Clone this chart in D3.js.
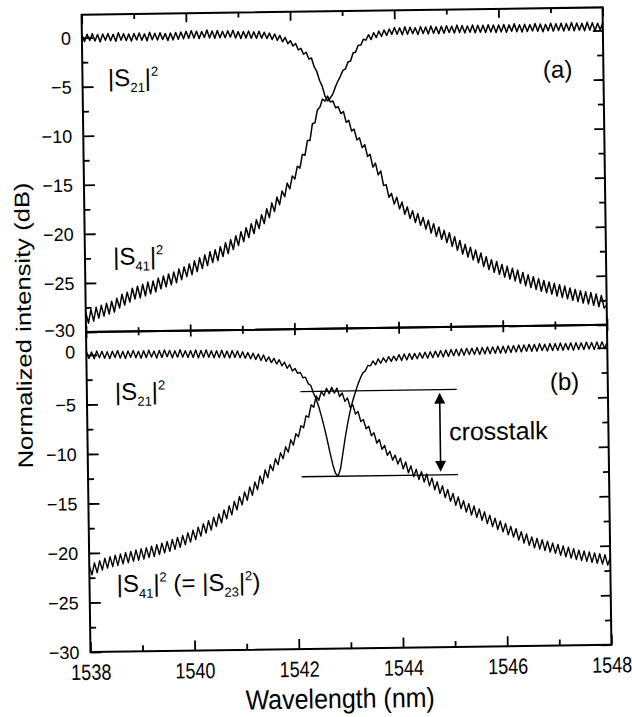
<!DOCTYPE html>
<html>
<head>
<meta charset="utf-8">
<script src="https://cdn.jsdelivr.net/npm/d3@7"></script>
<style>
  body { margin: 0; background: #fff; }
  svg text { font-family: "Liberation Sans", Arial, Helvetica, sans-serif; fill: #000; }
</style>
</head>
<body>
<div id="chart"></div>
<script>
// wavelength sampling of the traces (nm)
var wlStart = 1538, wlStep = 0.05;

var xMajor = [1538, 1540, 1542, 1544, 1546, 1548];
var xMinor = [1539, 1541, 1543, 1545, 1547];
var yMajor = [0, -5, -10, -15, -20, -25, -30];
var yMinor = [-2.5, -7.5, -12.5, -17.5, -22.5, -27.5];

// panel (a), dB
var s21a = [
  0.3,-0.4,0.35,-0.3,0.4,-0.35,0.3,-0.45,0.35,-0.3,
  0.4,-0.35,0.3,-0.4,0.45,-0.3,0.35,-0.35,0.3,-0.4,
  0.35,-0.3,0.4,-0.35,0.3,-0.4,0.45,-0.3,0.35,-0.35,
  0.4,-0.3,0.3,-0.4,0.35,-0.35,0.4,-0.3,0.45,-0.25,
  0.5,-0.2,0.55,-0.2,0.5,-0.25,0.45,-0.15,0.6,-0.2,
  0.5,-0.25,0.55,-0.2,0.45,-0.2,0.5,-0.15,0.55,-0.25,
  0.4,-0.3,0.4,-0.25,0.45,-0.3,0.35,-0.3,0.4,-0.3,
  0.3,-0.35,0.2,-0.45,0.1,-0.55,-0.05,-0.7,-0.25,-0.9,
  -0.6,-1.15,-0.9,-1.55,-1.4,-2.0,-1.8,-2.5,-2.4,-3.3,
  -3.8,-4.7,-5.3,-6.3,-6.8,-6.5,-6.1,-5.4,-4.8,-4.3,
  -3.7,-3.55,-2.85,-2.75,-1.95,-1.85,-1.15,-1.15,-0.55,-0.65,
  -0.1,-0.6,0.1,-0.4,0.25,-0.3,0.35,-0.2,0.45,-0.1,
  0.6,-0.1,0.55,-0.15,0.65,-0.1,0.6,-0.05,0.55,-0.15,
  0.65,-0.05,0.6,-0.1,0.7,-0.05,0.6,-0.1,0.65,-0.05,
  0.7,0.0,0.65,-0.05,0.75,0.0,0.7,-0.05,0.65,0.0,
  0.75,-0.05,0.7,0.0,0.7,-0.05,0.75,0.0,0.7,-0.05,
  0.7,0.0,0.75,-0.05,0.7,0.05,0.8,0.0,0.7,-0.05,
  0.75,0.0,0.7,0.05,0.8,0.0,0.75,-0.05,0.7,0.05,
  0.8,0.0,0.75,0.05,0.8,0.0,0.75,0.05,0.85,0.0,
  0.8,0.05,0.75,0.0,0.85,0.05,0.8,0.0,0.75,0.05,
  0.8
];
var s41a = [
  -28.0,-29.1,-27.7,-28.9,-27.5,-28.6,-27.3,-28.4,-27.1,-28.2,
  -26.9,-28.0,-26.6,-27.6,-26.2,-27.3,-26.0,-27.0,-25.6,-26.7,
  -25.4,-26.6,-25.2,-26.4,-25.0,-26.2,-24.9,-26.0,-24.6,-25.7,
  -24.4,-25.5,-24.2,-25.3,-24.0,-25.1,-23.7,-24.8,-23.5,-24.5,
  -23.2,-24.3,-22.9,-24.0,-22.6,-23.7,-22.3,-23.4,-22.0,-23.1,
  -21.8,-22.9,-21.5,-22.5,-21.1,-22.2,-20.8,-21.8,-20.4,-21.4,
  -20.0,-21.0,-19.6,-20.6,-19.2,-20.2,-18.8,-19.7,-18.3,-19.2,
  -17.7,-18.6,-17.1,-18.0,-16.5,-17.3,-15.9,-16.5,-15.1,-15.7,
  -14.4,-14.7,-13.4,-13.6,-12.2,-12.3,-10.8,-10.8,-9.1,-9.0,
  -7.7,-7.4,-6.6,-6.8,-6.3,-6.9,-6.8,-7.5,-7.4,-8.1,
  -7.9,-9.0,-8.8,-9.9,-9.7,-10.8,-10.6,-11.6,-11.3,-12.5,
  -12.3,-13.6,-13.2,-14.4,-14.0,-15.5,-15.4,-16.7,-16.3,-17.4,
  -16.7,-17.9,-17.2,-18.45,-17.7,-18.9,-18.1,-19.3,-18.4,-19.6,
  -18.8,-20.0,-19.1,-20.4,-19.45,-20.75,-19.8,-21.05,-20.15,-21.4,
  -20.4,-21.8,-20.8,-22.2,-21.2,-22.6,-21.6,-22.9,-21.9,-23.2,
  -22.2,-23.5,-22.5,-23.9,-22.9,-24.2,-23.2,-24.5,-23.4,-24.7,
  -23.7,-25.0,-23.9,-25.2,-24.1,-25.4,-24.3,-25.65,-24.55,-25.9,
  -24.8,-26.1,-25.0,-26.3,-25.2,-26.5,-25.4,-26.65,-25.55,-26.8,
  -25.7,-27.0,-25.85,-27.15,-26.0,-27.3,-26.2,-27.45,-26.35,-27.6,
  -26.5,-27.75,-26.6,-27.85,-26.7,-28.0,-26.85,-28.15,-27.0,-28.3,
  -28.0
];

// panel (b), dB
var s21b = [
  0.35,-0.35,0.3,-0.4,0.4,-0.3,0.35,-0.35,0.3,-0.4,
  0.35,-0.3,0.4,-0.35,0.3,-0.4,0.35,-0.3,0.4,-0.35,
  0.3,-0.4,0.35,-0.35,0.4,-0.3,0.3,-0.4,0.35,-0.35,
  0.4,-0.3,0.35,-0.4,0.3,-0.35,0.4,-0.35,0.3,-0.4,
  0.3,-0.4,0.35,-0.45,0.3,-0.4,0.35,-0.4,0.25,-0.45,
  0.25,-0.45,0.3,-0.45,0.2,-0.5,0.25,-0.45,0.2,-0.5,
  0.1,-0.55,0.02,-0.62,-0.05,-0.7,-0.15,-0.8,-0.25,-0.9,
  -0.45,-1.03,-0.6,-1.18,-0.75,-1.37,-1.0,-1.63,-1.25,-1.9,
  -1.65,-2.15,-2.05,-2.6,-2.55,-3.2,-3.4,-4.2,-4.8,-5.6,
  -6.6,-7.7,-8.9,-10.2,-11.4,-12.3,-12.6,-11.8,-10.2,-8.6,
  -7.2,-6.0,-5.0,-4.2,-3.4,-2.75,-2.2,-2.0,-1.45,-1.5,
  -1.0,-1.4,-0.8,-1.25,-0.7,-1.15,-0.6,-1.07,-0.55,-1.0,
  -0.4,-1.0,-0.35,-0.95,-0.3,-0.9,-0.3,-0.85,-0.25,-0.8,
  -0.2,-0.8,-0.15,-0.75,-0.1,-0.7,-0.05,-0.7,0.0,-0.65,
  0.05,-0.6,0.05,-0.6,0.1,-0.55,0.15,-0.5,0.15,-0.5,
  0.2,-0.5,0.2,-0.45,0.25,-0.45,0.25,-0.4,0.3,-0.4,
  0.3,-0.4,0.35,-0.35,0.35,-0.3,0.4,-0.3,0.4,-0.25,
  0.45,-0.25,0.45,-0.25,0.5,-0.2,0.45,-0.25,0.5,-0.2,
  0.5,-0.2,0.55,-0.2,0.5,-0.15,0.55,-0.2,0.55,-0.15,
  0.55,-0.15,0.6,-0.1,0.55,-0.15,0.6,-0.1,0.6,-0.1,
  0.6
];
var s41b = [
  -21.3,-22.2,-21.0,-22.0,-20.8,-21.75,-20.55,-21.55,-20.4,-21.4,
  -20.25,-21.3,-20.15,-21.15,-20.0,-21.05,-19.9,-20.9,-19.75,-20.8,
  -19.65,-20.7,-19.55,-20.55,-19.4,-20.45,-19.25,-20.25,-19.1,-20.1,
  -18.95,-19.95,-18.75,-19.75,-18.55,-19.55,-18.35,-19.3,-18.1,-19.05,
  -17.85,-18.8,-17.55,-18.45,-17.2,-18.15,-16.9,-17.85,-16.55,-17.5,
  -16.25,-17.15,-15.85,-16.75,-15.45,-16.35,-15.0,-15.85,-14.5,-15.35,
  -14.05,-14.9,-13.55,-14.4,-13.05,-13.85,-12.45,-13.25,-11.85,-12.65,
  -11.35,-11.95,-10.75,-11.35,-10.15,-10.75,-9.55,-10.1,-8.85,-9.4,
  -8.25,-8.55,-7.45,-7.65,-6.45,-6.6,-5.35,-5.6,-4.45,-4.9,
  -4.0,-4.45,-3.7,-4.25,-3.6,-4.2,-3.7,-4.55,-4.2,-5.05,
  -4.7,-5.65,-5.4,-6.35,-6.1,-7.1,-6.9,-7.85,-7.6,-8.55,
  -8.25,-9.3,-8.95,-9.95,-9.55,-10.55,-10.15,-11.05,-10.55,-11.45,
  -10.85,-11.95,-11.25,-12.35,-11.65,-12.75,-12.0,-13.05,-12.25,-13.3,
  -12.5,-13.7,-12.9,-14.1,-13.3,-14.5,-13.7,-14.9,-14.1,-15.3,
  -14.5,-15.7,-14.85,-16.05,-15.25,-16.4,-15.55,-16.7,-15.8,-16.95,
  -16.1,-17.25,-16.4,-17.6,-16.75,-17.9,-17.05,-18.2,-17.35,-18.45,
  -17.6,-18.75,-17.9,-19.0,-18.15,-19.3,-18.45,-19.6,-18.7,-19.85,
  -19.0,-20.1,-19.15,-20.25,-19.3,-20.4,-19.45,-20.55,-19.65,-20.7,
  -19.8,-20.9,-19.95,-21.05,-20.1,-21.2,-20.25,-21.35,-20.4,-21.45,
  -20.5,-21.55,-20.6,-21.65,-20.7,-21.75,-20.8,-21.85,-20.9,-21.95,
  -21.2
];

// crosstalk marker in panel (b)
var xtalkLevels = [-4.0, -12.6];
var xtalkSpan = [1542.1, 1545.1];
var xtalkArrow = [1544.77, -4.3, -12.3];

var width = 632, height = 717;
var left = 86, right = 607;
var topA = 11, mid = 328.4, botB = 648.4;

var svg = d3.select('#chart').append('svg')
    .attr('width', width)
    .attr('height', height);

// the scanned figure is tilted slightly
var g = svg.append('g').attr('transform', 'rotate(-0.8,346,329)');

var x = d3.scaleLinear().domain([1538, 1548]).range([left, right]);
var yA = d3.scaleLinear().domain([-30, 2.35]).range([mid, topA]);
var yB = d3.scaleLinear().domain([-30, 2.32]).range([botB, mid]);

function tickAxis(axisFn, scale, values, size, pos, isX) {
    var ax = g.append('g')
        .attr('transform', isX ? 'translate(0,' + pos + ')' : 'translate(' + pos + ',0)')
        .call(axisFn(scale).tickValues(values).tickSize(size).tickSizeOuter(0).tickFormat(''));
    ax.select('.domain').remove();
    ax.selectAll('line').attr('stroke', '#000').attr('stroke-width', 1.8);
    return ax;
}

[[yA], [yB]].forEach(function(p) {
    var y = p[0];
    // left, inward ticks
    tickAxis(d3.axisLeft, y, yMajor, -11, left, false);
    tickAxis(d3.axisLeft, y, yMinor, -6, left, false);
    // right, inward ticks
    tickAxis(d3.axisRight, y, yMajor, -10, right, false);
    tickAxis(d3.axisRight, y, yMinor, -6, right, false);
});

// x ticks on the three horizontal edges
tickAxis(d3.axisBottom, x, xMajor, 9, topA, true);
tickAxis(d3.axisBottom, x, xMinor, 5, topA, true);
tickAxis(d3.axisTop, x, xMajor, 6, mid, true);
tickAxis(d3.axisTop, x, xMinor, 4, mid, true);
tickAxis(d3.axisBottom, x, xMajor, 6, mid, true);
tickAxis(d3.axisBottom, x, xMinor, 4, mid, true);
tickAxis(d3.axisBottom, x, xMajor, -10, botB, true);
tickAxis(d3.axisBottom, x, xMinor, -6, botB, true);

// tick labels
function yLabels(y, isLower) {
    var ax = g.append('g')
        .attr('transform', 'translate(' + left + ',0)')
        .call(d3.axisLeft(y).tickValues(yMajor).tickSize(0).tickPadding(11).tickFormat(d3.format('d')));
    ax.select('.domain').remove();
    ax.selectAll('text')
        .style('font-size', '18px')
        .attr('dy', function(d) {
            if (isLower && d === 0) return '0.15em';
            if (!isLower && d === -30) return '0.22em';
            return '0.34em';
        });
}
yLabels(yA, false);
yLabels(yB, true);

var xAx = g.append('g')
    .attr('transform', 'translate(0,' + botB + ')')
    .call(d3.axisBottom(x).tickValues(xMajor).tickSize(0).tickPadding(10).tickFormat(d3.format('d')));
xAx.select('.domain').remove();
xAx.selectAll('text').style('font-size', '18px').attr('transform', 'scale(1,1.22)');

// frames
[[topA, mid], [mid, botB]].forEach(function(p) {
    g.append('rect')
        .attr('x', left).attr('y', p[0])
        .attr('width', right - left).attr('height', p[1] - p[0])
        .attr('fill', 'none').attr('stroke', '#000').attr('stroke-width', 2);
});

// traces
function trace(values, y, w) {
    var line = d3.line()
        .x(function(d, i) { return x(wlStart + i * wlStep); })
        .y(function(d) { return y(d); });
    g.append('path')
        .datum(values)
        .attr('d', line)
        .attr('fill', 'none')
        .attr('stroke', '#000')
        .attr('stroke-width', w)
        .attr('stroke-linejoin', 'round');
}
trace(s21a, yA, 1.5);
trace(s41a, yA, 1.5);
trace(s21b, yB, 1.4);
trace(s41b, yB, 1.4);

// crosstalk lines and arrow
xtalkLevels.forEach(function(v) {
    g.append('line')
        .attr('x1', x(xtalkSpan[0])).attr('x2', x(xtalkSpan[1]))
        .attr('y1', yB(v)).attr('y2', yB(v))
        .attr('stroke', '#000').attr('stroke-width', 1.3);
});
var ax0 = x(xtalkArrow[0]), ayT = yB(xtalkArrow[1]), ayB = yB(xtalkArrow[2]);
g.append('line')
    .attr('x1', ax0).attr('x2', ax0)
    .attr('y1', ayT + 8).attr('y2', ayB - 8)
    .attr('stroke', '#000').attr('stroke-width', 1.6);
g.append('path')
    .attr('d', 'M' + ax0 + ',' + ayT + 'l-5.5,11h11z M' + ax0 + ',' + ayB + 'l-5.5,-11h11z')
    .attr('fill', '#000');

// annotations
function richText(px, py, parts, size) {
    var t = g.append('text').attr('x', px).attr('y', py).style('font-size', size + 'px');
    var shift = 0;
    parts.forEach(function(p) {
        var target = p[1] === 'sub' ? 0.25 * size : (p[1] === 'sup' ? -0.42 * size : 0);
        t.append('tspan')
            .attr('dy', target - shift)
            .style('font-size', (p[1] === 'n' ? size : Math.round(size * 0.55)) + 'px')
            .text(p[0]);
        shift = target;
    });
    return t;
}
var lblS21 = [['|S', 'n'], ['21', 'sub'], ['|', 'n'], ['2', 'sup']];
var lblS41 = [['|S', 'n'], ['41', 'sub'], ['|', 'n'], ['2', 'sup']];
richText(x(1538.49), yA(-5.0), lblS21, 24);
richText(x(1538.54), yA(-23.2), lblS41, 24);
richText(x(1538.54), yB(-4.6), lblS21, 24);
richText(x(1538.52), yB(-24.0), lblS41.concat([[' (= |S', 'n'], ['23', 'sub'], ['|', 'n'], ['2', 'sup'], [')', 'n']]), 24);

g.append('text').attr('x', x(1546.84)).attr('y', yA(-4.74)).style('font-size', '24px').text('(a)');
g.append('text').attr('x', x(1546.89)).attr('y', yB(-4.19)).style('font-size', '24px').text('(b)');
g.append('text').attr('x', x(1544.94)).attr('y', yB(-9.13)).style('font-size', '25px').text('crosstalk');

// axis titles
g.append('text')
    .attr('transform', 'translate(335,708) scale(1,1.1)')
    .attr('text-anchor', 'middle')
    .style('font-size', '25px')
    .text('Wavelength (nm)');
g.append('text')
    .attr('transform', 'translate(31,321) rotate(-90) scale(1.22,1)')
    .attr('text-anchor', 'middle')
    .style('font-size', '21px')
    .text('Normalized intensity (dB)');
</script>
</body>
</html>
